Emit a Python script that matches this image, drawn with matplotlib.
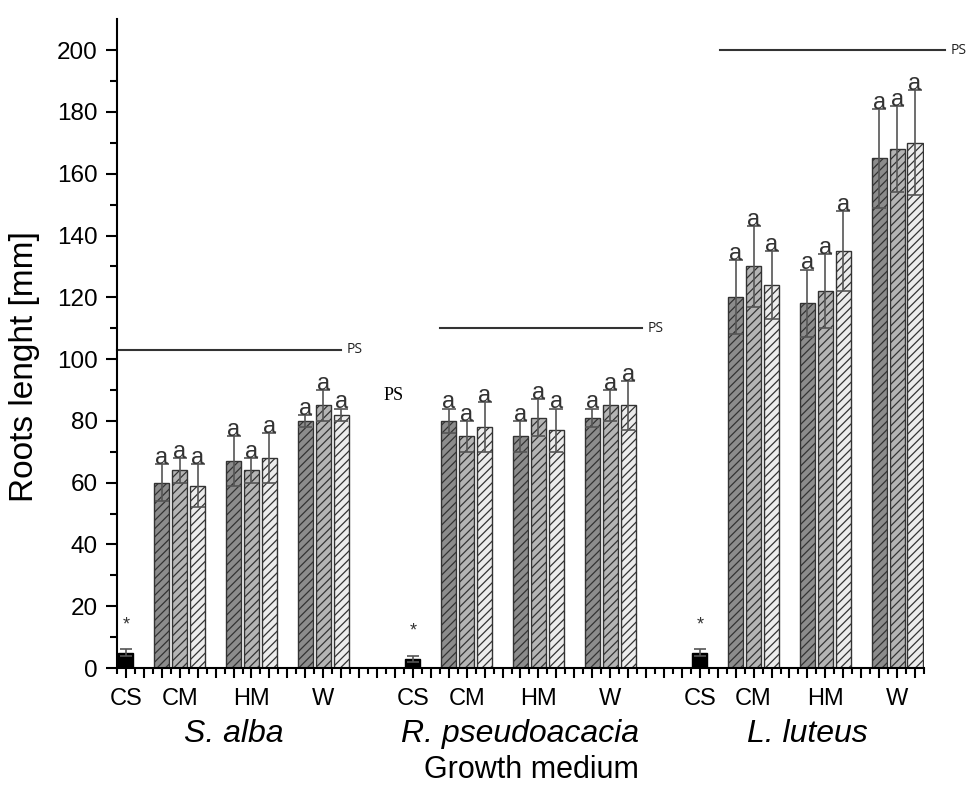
import matplotlib
matplotlib.use("Agg")
import matplotlib.pyplot as plt
import matplotlib.transforms as mtransforms
import numpy as np

# --- data ---
species = ["S. alba", "R. pseudoacacia", "L. luteus"]
media = ["CS", "CM", "HM", "W"]

cs_mean = [5, 3, 5]
cs_err = [1, 1, 1]

# per species: CM x3, HM x3, W x3
s_alba_mean = [60, 64, 59, 67, 64, 68, 80, 85, 82]
s_alba_err = [6, 4, 7, 8, 4, 8, 2, 5, 2]
r_pseudo_mean = [80, 75, 78, 75, 81, 77, 81, 85, 85]
r_pseudo_err = [4, 5, 8, 5, 6, 7, 3, 5, 8]
l_luteus_mean = [120, 130, 124, 118, 122, 135, 165, 168, 170]
l_luteus_err = [12, 13, 11, 11, 12, 13, 16, 14, 17]

ps_level = [103, 110, 200]

plt.rcParams["font.family"] = ["Liberation Sans", "DejaVu Sans"]
plt.rcParams["hatch.linewidth"] = 0.9

fills = ["#8c8c8c", "#b4b4b4", "#ececec"]
edge = "#333333"
err_col = "#555555"

fig = plt.figure(figsize=(9.79, 7.87), dpi=100)
ax = fig.add_axes([0.1195, 0.1512, 0.8243, 0.8243])

means = [s_alba_mean, r_pseudo_mean, l_luteus_mean]
errs = [s_alba_err, r_pseudo_err, l_luteus_err]
group_start = [0, 16, 32]
width = 0.84

for k in range(3):
    x0 = group_start[k]
    # control soil bar
    ax.bar(x0, cs_mean[k], width=width, color="black", edgecolor="black", zorder=2)
    ax.errorbar(x0, cs_mean[k], yerr=cs_err[k], fmt="none", ecolor=err_col,
                elinewidth=1.2, capsize=4, capthick=1.2, zorder=3)
    ax.text(x0, cs_mean[k] + cs_err[k] + 8, "*", ha="center", va="center",
            fontsize=13, color="#333333")
    for m in range(3):
        for t in range(3):
            xi = x0 + 2 + 4 * m + t
            v = means[k][3 * m + t]
            e = errs[k][3 * m + t]
            ax.bar(xi, v, width=width, color=fills[t], edgecolor=edge,
                   linewidth=1.0, hatch="////", zorder=2)
            ax.errorbar(xi, v, yerr=e, fmt="none", ecolor=err_col,
                        elinewidth=1.2, capsize=5, capthick=1.2, zorder=3)
            ax.text(xi, v + e + 2.0, "a", ha="center", va="center",
                    fontsize=17, color="#333333", zorder=4)

# PS reference lines
ps_span = [(-0.5, 12.0), (17.5, 28.8), (33.1, 45.7)]
for (xa, xb), lev in zip(ps_span, ps_level):
    ax.plot([xa, xb], [lev, lev], color="#333333", lw=1.5, clip_on=False, zorder=1)
    ax.text(xb + 0.3, lev, "PS", ha="left", va="center", fontsize=10,
            family="Open Sans", color="#222222", clip_on=False)
ax.text(14.9, 88.3, "PS", ha="center", va="center", fontsize=13,
        family="Liberation Serif", color="black")

ax.set_xlim(-0.5, 44.5)
ax.set_ylim(0, 210)
ax.spines["top"].set_visible(False)
ax.spines["right"].set_visible(False)
ax.spines["left"].set_linewidth(1.5)
ax.spines["bottom"].set_linewidth(1.5)

ax.set_yticks(np.arange(0, 201, 20))
ax.set_yticks(np.arange(10, 210, 20), minor=True)
ax.tick_params(axis="y", which="major", direction="out", length=8, width=1.5,
               labelsize=17.5, pad=6)
ax.tick_params(axis="y", which="minor", direction="out", length=5, width=1.5)

ax.set_xticks(np.arange(0, 45, 1))
ax.set_xticks(np.arange(-0.5, 44.6, 1), minor=True)
ax.set_xticklabels([])
ax.tick_params(axis="x", which="major", direction="out", length=7, width=1.5)
ax.tick_params(axis="x", which="minor", direction="out", length=4, width=1.5)

trans = mtransforms.blended_transform_factory(ax.transData, ax.transAxes)
label_pos = [0, 3, 7, 11]
for k in range(3):
    x0 = group_start[k]
    for lab, p in zip(media, label_pos):
        ax.text(x0 + p, -0.057, lab, ha="center", va="baseline",
                fontsize=17, transform=trans)
    ax.text(x0 + 6, -0.114, species[k], ha="center", va="baseline",
            fontsize=23, style="italic", transform=trans)

ax.text(0.513, -0.17, "Growth medium", ha="center", va="baseline",
        fontsize=22, transform=ax.transAxes)
fig.text(25 / 979, 1 - 367 / 787, "Roots lenght [mm]", rotation=90,
         ha="center", va="center", fontsize=24)

fig.savefig("out.png", dpi=100, facecolor="white")
